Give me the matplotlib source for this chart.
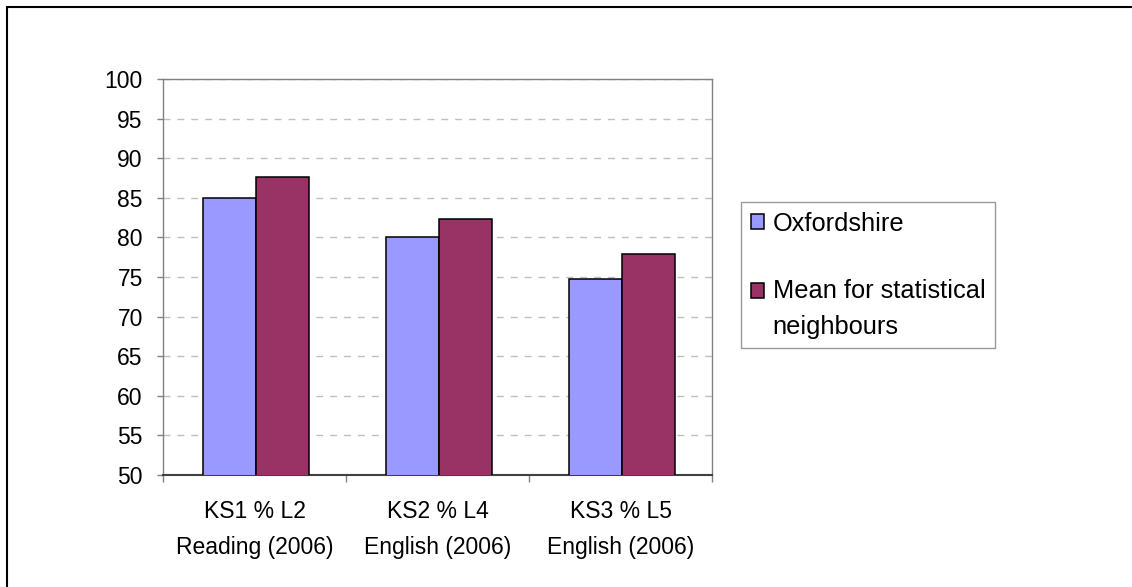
import matplotlib
matplotlib.use("Agg")
import matplotlib.pyplot as plt
from matplotlib.patches import Rectangle
from matplotlib.legend_handler import HandlerPatch
import numpy as np

categories = ["KS1 % L2\nReading (2006)", "KS2 % L4\nEnglish (2006)", "KS3 % L5\nEnglish (2006)"]
oxfordshire = [85.0, 80.0, 74.8]
stat_neighbours = [87.6, 82.3, 77.9]
series_names = ["Oxfordshire", "Mean for statistical\nneighbours"]
yticks = list(range(50, 101, 5))

plt.rcParams['font.family'] = ['Liberation Sans', 'DejaVu Sans']
fs = 16.5
lfs = 18.3

fig = plt.figure(figsize=(11.32, 5.87), dpi=100)
ax = fig.add_axes([163/1132, 1-475/587, (712-163)/1132, (475-79)/587])

x = np.arange(len(categories))
w = 0.29
b1 = ax.bar(x - w/2 + 0.01, oxfordshire, w, color="#9999FF", edgecolor="black", linewidth=1.1,
            label=series_names[0], zorder=3)
b2 = ax.bar(x + w/2 + 0.01, stat_neighbours, w, color="#993366", edgecolor="black", linewidth=1.1,
            label=series_names[1], zorder=3)

ax.set_ylim(50, 100)
ax.set_xlim(-0.5, 2.5)
ax.set_yticks(yticks)
ax.set_yticklabels([str(t) for t in yticks], fontsize=fs)
ax.set_xticks(x)
ax.set_xticklabels(categories, fontsize=fs, linespacing=1.72)
ax.set_xticks([-0.5, 0.5, 1.5, 2.5], minor=True)
ax.tick_params(axis='x', which='major', length=0, pad=18)
ax.tick_params(axis='x', which='minor', length=5, direction='out', color='#808080', width=1)
ax.tick_params(axis='y', length=4.5, direction='out', color='#808080', width=1, pad=10)
ax.yaxis.grid(True, linestyle=(0, (5, 5)), color='#C0C0C0', linewidth=1, zorder=0)
ax.set_axisbelow(True)
for s in ax.spines.values():
    s.set_color('#808080')
    s.set_linewidth(1)
ax.spines['bottom'].set_color('#404040')
ax.spines['bottom'].set_linewidth(1.5)


def make_patch_func(offset_lines):
    def f(legend, orig_handle, xdescent, ydescent, width, height, fontsize):
        off = offset_lines * fontsize
        return Rectangle((-xdescent, -ydescent + off), width, height)
    return f


h1 = b1.patches[0]
h2 = b2.patches[0]
leg = ax.legend(handles=[h1, h2], labels=series_names,
                loc='upper left', bbox_to_anchor=(741/1132, 1-202/587), bbox_transform=fig.transFigure,
                fontsize=lfs, frameon=True, fancybox=False, edgecolor='#808080',
                handlelength=0.52, handleheight=0.52, handletextpad=0.35, labelspacing=1.69,
                borderpad=0.38, borderaxespad=0,
                handler_map={h1: HandlerPatch(patch_func=make_patch_func(0.0)),
                             h2: HandlerPatch(patch_func=make_patch_func(0.73))})
leg.get_frame().set_linewidth(1)
for t in leg.get_texts():
    t.set_linespacing(1.64)

fig.patches.append(Rectangle((6.5/1132, -0.05), 1.1, 1 - 6.5/587 + 0.05, transform=fig.transFigure,
                             fill=False, edgecolor='black', linewidth=1.5))

fig.savefig("out.png", dpi=100)
